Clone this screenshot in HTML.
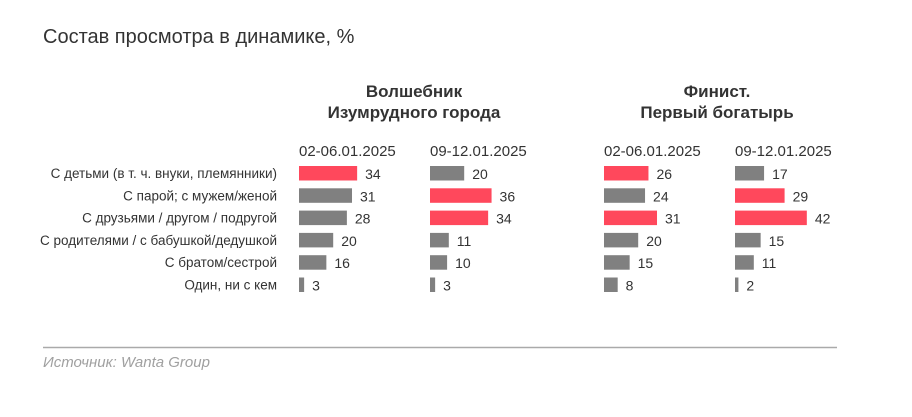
<!DOCTYPE html>
<html><head><meta charset="utf-8"><style>
body{margin:0;background:#fff;width:912px;height:412px;overflow:hidden;font-family:"Liberation Sans",sans-serif;color:#333}
svg text{font-family:"Liberation Sans",sans-serif}
</style></head><body>
<svg width="912" height="412" id="c">
<text x="43" y="43" font-size="20" fill="#333">Состав просмотра в динамике, %</text>
<text x="414" y="97" font-size="17" font-weight="bold" text-anchor="middle" fill="#333">Волшебник</text>
<text x="414" y="118" font-size="17" font-weight="bold" text-anchor="middle" fill="#333">Изумрудного города</text>
<text x="717" y="97" font-size="17" font-weight="bold" text-anchor="middle" fill="#333">Финист.</text>
<text x="717" y="118" font-size="17" font-weight="bold" text-anchor="middle" fill="#333">Первый богатырь</text>
<line x1="43" y1="347.5" x2="837" y2="347.5" stroke="#aaa" stroke-width="1.5"/>
<text x="43" y="367" font-size="15" font-style="italic" fill="#a0a0a0">Источник: Wanta Group</text>
<g id="bars"></g>
</svg>
<script>
const categories=["С детьми (в т. ч. внуки, племянники)","С парой; с мужем/женой","С друзьями / другом / подругой","С родителями / с бабушкой/дедушкой","С братом/сестрой","Один, ни с кем"];
const columnDates=["02-06.01.2025","09-12.01.2025","02-06.01.2025","09-12.01.2025"];
const wizard1=[34,31,28,20,16,3];
const wizard2=[20,36,34,11,10,3];
const finist1=[26,24,31,20,15,8];
const finist2=[17,29,42,15,11,2];
const highlight1=[1,0,0,0,0,0];
const highlight2=[0,1,1,0,0,0];
const highlight3=[1,0,1,0,0,0];
const highlight4=[0,1,1,0,0,0];
const series=[wizard1,wizard2,finist1,finist2];
const highlights=[highlight1,highlight2,highlight3,highlight4];
const colX=[299,430,604,735];
const k=1.71, rowTop=166, rowStep=22.3, bh=14.5;
const xs=v=>v*k, ys=i=>rowTop+i*rowStep;
const g=document.getElementById('bars');
const NS="http://www.w3.org/2000/svg";
function mk(t,a){const e=document.createElementNS(NS,t);for(const n in a)e.setAttribute(n,a[n]);return e;}
categories.forEach((c,i)=>{
 const t=mk('text',{x:277,y:ys(i)+12,'font-size':13.5,'text-anchor':'end',fill:'#333'});
 t.textContent=c;
 
 
 g.appendChild(t);
});
columnDates.forEach((d,j)=>{
 const t=mk('text',{x:colX[j],y:156,'font-size':15,fill:'#333'});
 t.textContent=d;
 
 
 g.appendChild(t);
 series[j].forEach((v,i)=>{
  const r=mk('rect',{x:colX[j],y:ys(i),width:xs(v),height:bh,fill:highlights[j][i]?'#ff485c':'#808080'});
  
  
  g.appendChild(r);
  const l=mk('text',{x:colX[j]+xs(v)+8,y:ys(i)+13,'font-size':14,fill:'#333'});
  l.textContent=v;
  
  
  g.appendChild(l);
 });
});
</script>
</body></html>
